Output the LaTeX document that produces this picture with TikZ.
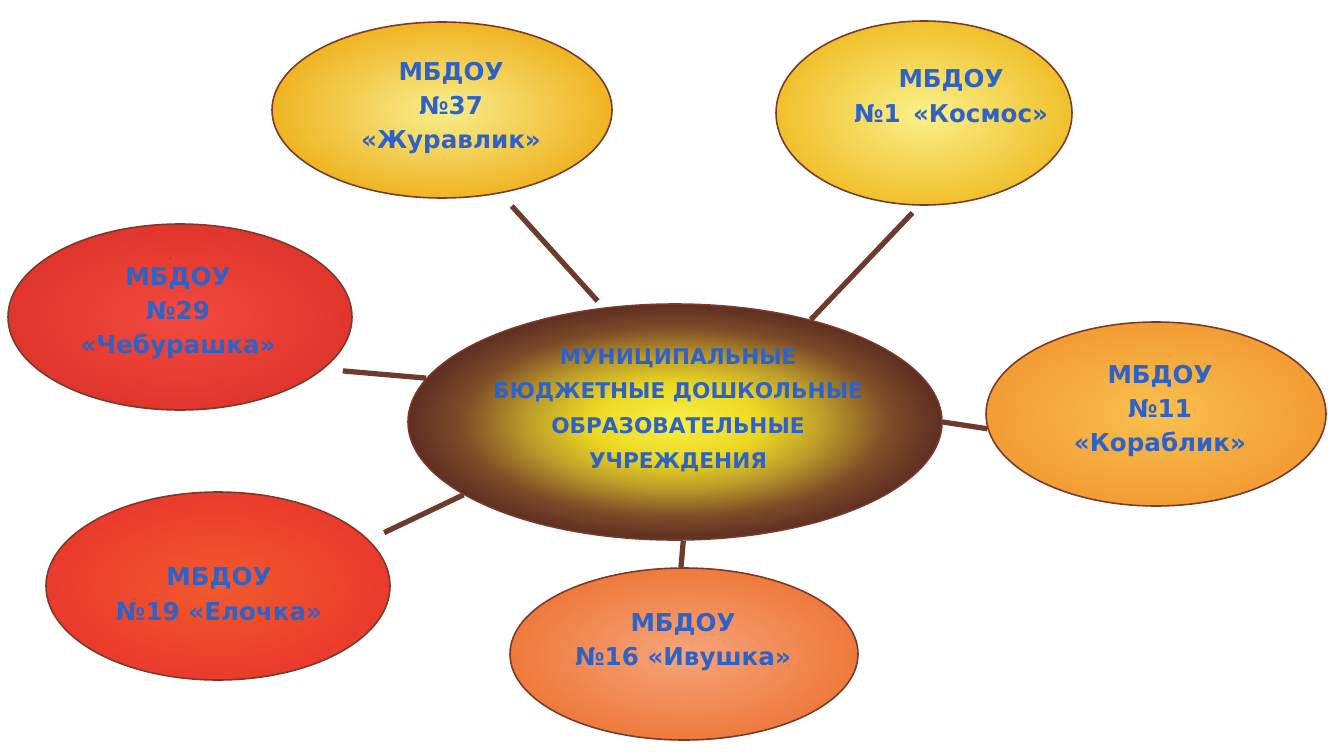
\documentclass[tikz,border=0pt]{standalone}
\usepackage{fontspec}
\setmainfont{DejaVu Sans}
\usetikzlibrary{shapes.geometric}
\definecolor{txtblue}{HTML}{2E62C6}
\definecolor{linkbrown}{HTML}{6E3A2C}
\definecolor{rimbrown}{HTML}{7A3A2A}
\definecolor{cA}{HTML}{F8F048}
\definecolor{cB}{HTML}{ECD822}
\definecolor{cC}{HTML}{BC9C2A}
\definecolor{cD}{HTML}{7E4C28}
\definecolor{cE}{HTML}{5E2E22}
\pgfdeclareradialshading{centreshade}{\pgfpoint{0bp}{0bp}}{%
  color(0bp)=(cA);
  color(8bp)=(cB);
  color(14bp)=(cC);
  color(20bp)=(cD);
  color(25bp)=(cE);
  color(50bp)=(cE)}
\definecolor{zhIn}{HTML}{F8EE8C}\definecolor{zhOut}{HTML}{EFB423}
\definecolor{koIn}{HTML}{FAF18A}\definecolor{koOut}{HTML}{F0C02C}
\definecolor{chIn}{HTML}{F24A3E}\definecolor{chOut}{HTML}{E0352C}
\definecolor{krIn}{HTML}{F9C04E}\definecolor{krOut}{HTML}{F29C34}
\definecolor{elIn}{HTML}{F05A2C}\definecolor{elOut}{HTML}{EA3A2C}
\definecolor{ivIn}{HTML}{F6A47A}\definecolor{ivOut}{HTML}{EE7A3C}
\tikzset{
  bubble/.style={ellipse, draw=rimbrown, line width=0.9pt, inner sep=0pt},
  lab/.style={text=txtblue, font=\bfseries\fontsize{14}{19.5}\selectfont, align=center, inner sep=0pt},
  clab/.style={text=txtblue, font=\bfseries\fontsize{12.3}{19.8}\selectfont, align=center, inner sep=0pt},
  link/.style={draw=linkbrown, line width=3pt}
}
\begin{document}
\begin{tikzpicture}[x=0.02cm,y=-0.02cm]
\useasboundingbox (0,0) rectangle (1328,754);
% centre
\node[bubble, shading=centreshade, minimum width=534*0.02cm, minimum height=236*0.02cm] (c) at (675,422) {};
\node[clab] (ct) at (678,410) {МУНИЦИПАЛЬНЫЕ\\БЮДЖЕТНЫЕ ДОШКОЛЬНЫЕ\\ОБРАЗОВАТЕЛЬНЫЕ\\УЧРЕЖДЕНИЯ};
% satellites
\node[bubble, inner color=zhIn, outer color=zhOut, minimum width=340*0.02cm, minimum height=176*0.02cm] (zh) at (442,110) {};
\node[lab] (zht) at (451,108) {МБДОУ\\№37\\«Журавлик»};
\node[bubble, inner color=koIn, outer color=koOut, minimum width=296*0.02cm, minimum height=184*0.02cm] (ko) at (924,113) {};
\node[lab] (kot) at (951,96) {МБДОУ\\№1\enspace«Космос»};
\node[bubble, inner color=chIn, outer color=chOut, minimum width=344*0.02cm, minimum height=186*0.02cm] (ch) at (180,317) {};
\node[lab] (cht) at (178,313) {МБДОУ\\№29\\«Чебурашка»};
\node[bubble, inner color=krIn, outer color=krOut, minimum width=340*0.02cm, minimum height=184*0.02cm] (kr) at (1156,414) {};
\node[lab] (krt) at (1160,411) {МБДОУ\\№11\\«Кораблик»};
\node[bubble, inner color=elIn, outer color=elOut, minimum width=344*0.02cm, minimum height=188*0.02cm] (el) at (218,586) {};
\node[lab] (elt) at (219,594) {МБДОУ\\№19 «Елочка»};
\node[bubble, inner color=ivIn, outer color=ivOut, minimum width=348*0.02cm, minimum height=172*0.02cm] (iv) at (684,654) {};
\node[lab] (ivt) at (683,642) {МБДОУ\\№16 «Ивушка»};
% connectors
\draw[link, shorten <=9.6pt, shorten >=5pt] (zh.-55) -- (c.122);
\draw[link, shorten <=5.5pt] (ko.-93) -- (c.37);
\draw[link, shorten <=11pt] (ch.-20) -- (c.170);
\draw[link] (c.0) -- (kr.185);
\draw[link, shorten <=9.6pt] (el.17) -- (c.199);
\draw[link] (c.-86) -- (iv.92);
\end{tikzpicture}
\end{document}
